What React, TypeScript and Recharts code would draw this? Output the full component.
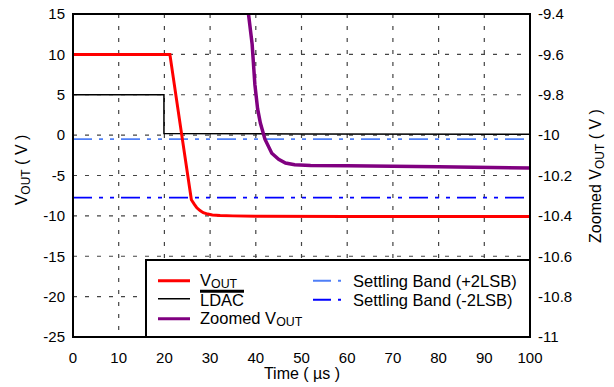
import React from "react";
import {
  ComposedChart,
  Line,
  XAxis,
  YAxis,
  CartesianGrid,
} from "recharts";

const FONT = "'Liberation Sans', Arial, sans-serif";

// time axis (µs)
const timeTicks = [0, 10, 20, 30, 40, 50, 60, 70, 80, 90, 100];
const voutTicks = [15, 10, 5, 0, -5, -10, -15, -20, -25];
const zoomTicks = [-9.4, -9.6, -9.8, -10, -10.2, -10.4, -10.6, -10.8, -11];

// V_OUT (left axis)
const voutTime = [0, 21.2, 23.8, 25.9, 26.6, 27.1, 27.8, 28.5, 29.5, 30.5, 32.2, 35, 41, 60, 100];
const voutValue = [10, 10, 0, -8.0, -8.6, -9.0, -9.35, -9.6, -9.78, -9.88, -9.95, -10.0, -10.06, -10.07, -10.08];

// LDAC (left axis)
const ldacTime = [0, 19.9, 19.9, 50, 100];
const ldacValue = [5, 5, 0.2, 0.15, 0.1];

// zoomed V_OUT (right axis)
const zoomTime = [38.4, 39.2, 39.8, 40.4, 41.0, 42.0, 43.5, 45, 46.5, 48.5, 52, 60, 80, 100];
const zoomValue = [-9.4, -9.55, -9.75, -9.87, -9.94, -10.02, -10.09, -10.12, -10.138, -10.147, -10.15, -10.152, -10.157, -10.163];

// settling bands (right axis)
const bandTime = [0, 100];
const bandPlus = [-10.02, -10.02];
const bandMinus = [-10.31, -10.31];

const toPoints = (t: number[], v: number[]) => t.map((x, i) => ({ t: x, v: v[i] }));

const voutData = toPoints(voutTime, voutValue);
const ldacData = toPoints(ldacTime, ldacValue);
const zoomData = toPoints(zoomTime, zoomValue);
const plusData = toPoints(bandTime, bandPlus);
const minusData = toPoints(bandTime, bandMinus);

const BAND_DASH = "19 7 4 7 4 7";
const tickStyle = { fill: "#000", fontSize: 15, fontFamily: FONT };

const Sub = ({ children }: { children: React.ReactNode }) => (
  <span style={{ fontSize: "0.75em", verticalAlign: "-0.18em" }}>{children}</span>
);

function LegendItem({
  x,
  y,
  color,
  width = 32,
  dash,
  thick = 3,
  children,
}: {
  x: number;
  y: number;
  color: string;
  width?: number;
  dash?: string;
  thick?: number;
  children: React.ReactNode;
}) {
  return (
    <div
      style={{
        position: "absolute",
        left: x,
        top: y,
        transform: "translateY(-50%)",
        display: "flex",
        alignItems: "center",
        whiteSpace: "nowrap",
        lineHeight: 1,
      }}
    >
      <svg width={width} height={6} style={{ display: "block" }}>
        <line x1={0} y1={3} x2={width} y2={3} stroke={color} strokeWidth={thick} strokeDasharray={dash} />
      </svg>
      <span style={{ marginLeft: 10 }}>{children}</span>
    </div>
  );
}

export default function App() {
  return (
    <div
      style={{
        position: "absolute",
        left: 0,
        top: 0,
        width: 614,
        height: 387,
        background: "#fff",
        fontFamily: FONT,
        color: "#000",
      }}
    >
      <ComposedChart width={614} height={387} margin={{ top: 14, right: 0, bottom: 0, left: 0 }}>
        <CartesianGrid
          xAxisId="b"
          yAxisId="l"
          stroke="#444"
          strokeDasharray="4 8"
          strokeWidth={1.2}
        />
        <XAxis
          xAxisId="b"
          type="number"
          dataKey="t"
          domain={[0, 100]}
          ticks={timeTicks}
          height={50}
          tickLine={false}
          tickMargin={9}
          tick={tickStyle}
          axisLine={false}
          allowDuplicatedCategory={false}
        />
        <YAxis
          yAxisId="l"
          type="number"
          domain={[-25, 15]}
          ticks={voutTicks}
          width={73}
          tickLine={false}
          tick={tickStyle}
          axisLine={false}
        />
        <YAxis
          yAxisId="r"
          orientation="right"
          type="number"
          domain={[-11, -9.4]}
          ticks={zoomTicks}
          allowDataOverflow
          width={84}
          tickLine={false}
          tick={tickStyle}
          tickFormatter={(v: number) => String(Number(v.toFixed(1)))}
          axisLine={false}
        />
        <Line
          xAxisId="b"
          yAxisId="r"
          data={plusData}
          dataKey="v"
          stroke="#4f7ff7"
          strokeWidth={1.6}
          strokeDasharray={BAND_DASH}
          dot={false}
          activeDot={false}
          isAnimationActive={false}
        />
        <Line
          xAxisId="b"
          yAxisId="r"
          data={minusData}
          dataKey="v"
          stroke="#0000ff"
          strokeWidth={1.8}
          strokeDasharray={BAND_DASH}
          dot={false}
          activeDot={false}
          isAnimationActive={false}
        />
        <Line
          xAxisId="b"
          yAxisId="l"
          data={ldacData}
          dataKey="v"
          type="linear"
          stroke="#000"
          strokeWidth={1.5}
          dot={false}
          activeDot={false}
          isAnimationActive={false}
        />
        <Line
          xAxisId="b"
          yAxisId="l"
          data={voutData}
          dataKey="v"
          type="linear"
          stroke="#ff0000"
          strokeWidth={3}
          dot={false}
          activeDot={false}
          isAnimationActive={false}
        />
        <Line
          xAxisId="b"
          yAxisId="r"
          data={zoomData}
          dataKey="v"
          type="linear"
          stroke="#800080"
          strokeWidth={3.5}
          dot={false}
          activeDot={false}
          isAnimationActive={false}
        />
      </ComposedChart>

      {/* plot frame */}
      <div
        style={{
          position: "absolute",
          left: 71.75,
          top: 12.75,
          width: 459.5,
          height: 325.5,
          boxSizing: "border-box",
          border: "2.5px solid #000",
          pointerEvents: "none",
        }}
      />

      {/* axis titles */}
      <div
        style={{
          position: "absolute",
          left: 23,
          top: 170,
          transform: "translate(-50%, -50%) rotate(-90deg)",
          fontSize: 16,
          whiteSpace: "nowrap",
        }}
      >
        V<Sub>OUT</Sub> ( V )
      </div>
      <div
        style={{
          position: "absolute",
          left: 597,
          top: 176,
          transform: "translate(-50%, -50%) rotate(-90deg)",
          fontSize: 16,
          whiteSpace: "nowrap",
        }}
      >
        Zoomed V<Sub>OUT</Sub> ( V )
      </div>
      <div
        style={{
          position: "absolute",
          left: 302,
          top: 374,
          transform: "translate(-50%, -50%)",
          fontSize: 16,
          whiteSpace: "nowrap",
        }}
      >
        Time ( µs )
      </div>

      {/* legend box */}
      <div
        style={{
          position: "absolute",
          left: 145,
          top: 259,
          width: 386,
          height: 79,
          boxSizing: "border-box",
          border: "2.5px solid #000",
          background: "#fff",
        }}
      />
      <div style={{ position: "absolute", left: 0, top: 0, fontSize: 16.5 }}>
        <LegendItem x={158} y={281} color="#ff0000">
          V<Sub>OUT</Sub>
        </LegendItem>
        <LegendItem x={158} y={299} color="#000" thick={1.5}>
          <span style={{ borderTop: "3px solid #000", display: "inline-block", lineHeight: 0.85 }}>
            LDAC
          </span>
        </LegendItem>
        <LegendItem x={158} y={319} color="#800080" thick={3}>
          Zoomed V<Sub>OUT</Sub>
        </LegendItem>
        <LegendItem x={313} y={281} color="#4f7ff7" width={30} dash="18 7 3 10" thick={1.8}>
          Settling Band (+2LSB)
        </LegendItem>
        <LegendItem x={313} y={300} color="#0000ff" width={30} dash="18 7 3 10" thick={1.8}>
          Settling Band (-2LSB)
        </LegendItem>
      </div>
    </div>
  );
}
